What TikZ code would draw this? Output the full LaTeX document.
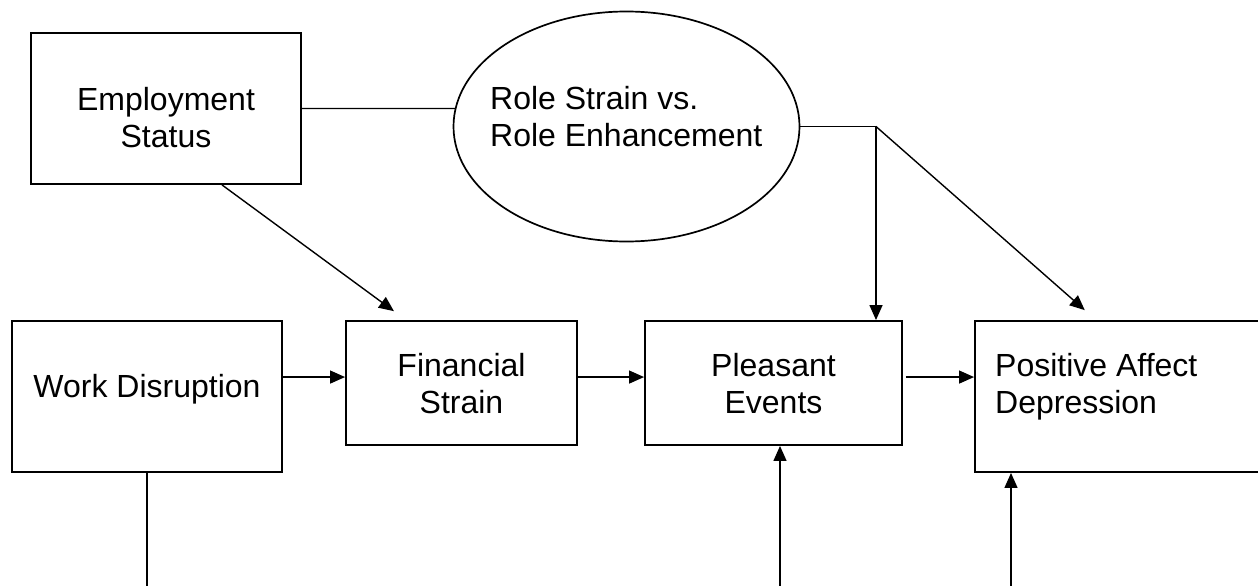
\documentclass[tikz,border=0pt]{standalone}
\usepackage{fontspec}
\setmainfont{Liberation Sans}
\usetikzlibrary{arrows.meta,calc,shapes.geometric}

\begin{document}
\begin{tikzpicture}[x=1pt,y=-1pt,
  box/.style={draw, line width=1.9pt, rectangle, inner sep=0pt},
  oval/.style={draw, line width=1.7pt, ellipse, inner sep=0pt},
  lbl/.style={font=\fontsize{32}{36.6}\selectfont, inner sep=0pt},
  link/.style={line width=1.4pt},
  arr/.style={link, -{Triangle[length=15pt,width=13pt]}},
]
\clip (0,0) rectangle (1258,586);

% shapes
\node[box, minimum width=270pt, minimum height=151pt] (emp) at (166,108.5) {};
\node[oval, minimum width=346pt, minimum height=230pt] (ell) at (626.5,126.5) {};
\node[box, minimum width=270pt, minimum height=151pt] (wd) at (147,396.5) {};
\node[box, minimum width=231pt, minimum height=124pt] (fin) at (461.5,383) {};
\node[box, minimum width=257pt, minimum height=124pt] (ple) at (773.5,383) {};
\node[box, minimum width=315pt, minimum height=151pt] (pos) at (1132.5,396.5) {};

% texts
\node[lbl, align=center, anchor=base] (empT) at (166,147) {Employment\\Status};
\node[lbl, align=left, anchor=base west] (ellT) at (490,146) {Role Strain vs.\\Role Enhancement};
\node[lbl, anchor=base] (wdT) at (147,397) {Work Disruption};
\node[lbl, align=center, anchor=base] (finT) at (461.5,413) {Financial\\Strain};
\node[lbl, align=center, anchor=base] (pleT) at (773.5,413) {Pleasant\\Events};
\node[lbl, align=left, anchor=base west] (posT) at (995,413) {Positive Affect\\Depression};

% junction right of the ellipse and free ends below the frame
\coordinate (junc) at (876,126.5);
\coordinate (wdOut) at (147,600);
\coordinate (pleIn) at (780,600);
\coordinate (posIn) at (1011,600);

% connectors
\draw[link] (emp.east) -- (ell.174);
\draw[link] (ell.east) -- (junc);
\draw[arr] (junc) -- (junc |- ple.north);
\draw[arr, shorten >=15pt] (junc) -- ($(pos.north west)+(122,0)$);
\draw[arr, shorten >=15pt] ($(emp.south west)+(192,0)$) -- ($(fin.north west)+(61,0)$);

\draw[arr] ($(wd.north east)+(0,57)$) -- ($(fin.north west)+(0,57)$);
\draw[arr] ($(fin.north east)+(0,57)$) -- ($(ple.north west)+(0,57)$);
\draw[arr] ($(ple.north east)+(3,57)$) -- ($(pos.north west)+(0,57)$);

\draw[link] (wd.south) -- (wdOut);
\draw[arr] (pleIn) -- (pleIn |- ple.south);
\draw[arr] (posIn) -- (posIn |- pos.south);
\end{tikzpicture}
\end{document}
